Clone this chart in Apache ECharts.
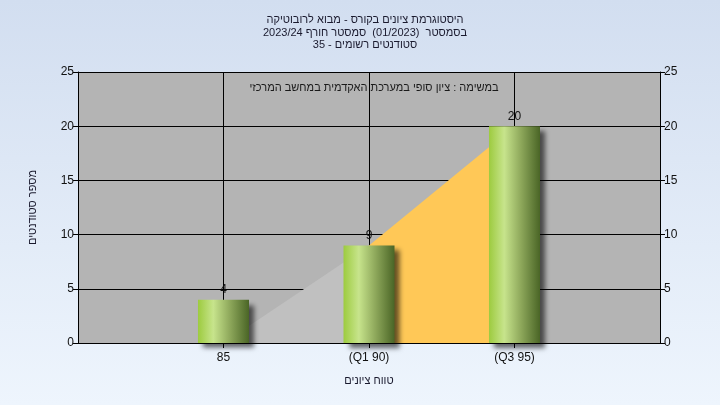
<!DOCTYPE html>
<html><head><meta charset="utf-8">
<script src="https://cdn.jsdelivr.net/npm/echarts@6/dist/echarts.min.js"></script>
<style>
html,body{margin:0;padding:0;}
#c{width:720px;height:405px;background:linear-gradient(to bottom,#d2def0 0%,#eef5fd 100%);}
</style></head>
<body><div id="c"></div>
<script>
var titleLines = ['היסטוגרמת ציונים בקורס - מבוא לרובוטיקה', 'בסמסטר  (01/2023)  סמסטר חורף 2023/24', 'סטודנטים רשומים - 35'];
var noteText = 'במשימה : ציון סופי במערכת האקדמית במחשב המרכזי';
var xAxisName = 'טווח ציונים';
var yAxisName = 'מספר סטודנטים';
var categories = ['', '85', '(Q1 90)', '(Q3 95)', ''];
var counts = [null, 4, 9, 20, null];
var lowerArea = [null, 0, 9, null, null];
var upperArea = [null, null, 9, 20, null];
var yMin = 0, yMax = 25, yStep = 5;

var font = 'Liberation Sans, Arial, sans-serif';
var chart = echarts.init(document.getElementById('c'));
var showCat = function (i) { return i > 0 && i < categories.length - 1; };
chart.setOption({
  backgroundColor: 'transparent',
  animation: false,
  textStyle: { fontFamily: font },
  title: [{
    text: titleLines.join('\n'),
    left: 360, textAlign: 'center', top: 9,
    textStyle: { fontSize: 11, fontWeight: 'normal', color: '#1a1a2e', lineHeight: 12.5, fontFamily: font }
  }, {
    text: noteText,
    left: 369, textAlign: 'center', top: 77,
    textStyle: { fontSize: 11, fontWeight: 'normal', color: '#1a1a1a', fontFamily: font }
  }],
  grid: { left: 78, right: 60, top: 72, bottom: 62, show: true, backgroundColor: '#b4b4b4', borderWidth: 0 },
  xAxis: {
    type: 'category', data: categories, boundaryGap: false,
    name: xAxisName, nameLocation: 'middle', nameGap: 32,
    nameTextStyle: { fontSize: 11, color: '#1a1a2e', fontFamily: font },
    axisLine: { lineStyle: { color: '#000', width: 1 } },
    axisTick: { show: true, length: 5, interval: function (i) { return showCat(i); }, lineStyle: { color: '#000' } },
    axisLabel: { interval: function (i) { return showCat(i); }, fontSize: 12, color: '#111', margin: 9, fontFamily: font },
    splitLine: { show: true, interval: function (i) { return showCat(i); }, lineStyle: { color: '#000', width: 1 } }
  },
  yAxis: [{
    type: 'value', min: yMin, max: yMax, interval: yStep, position: 'left',
    name: yAxisName, nameLocation: 'middle', nameGap: 40, nameRotate: 90,
    nameTextStyle: { fontSize: 11, color: '#1a1a2e', fontFamily: font },
    axisLine: { show: true, lineStyle: { color: '#000' } },
    axisTick: { show: true, length: 5, lineStyle: { color: '#000' } },
    axisLabel: { fontSize: 12, color: '#111', margin: 4, fontFamily: font },
    splitLine: { show: true, lineStyle: { color: '#000', width: 1 } }
  }, {
    type: 'value', min: yMin, max: yMax, interval: yStep, position: 'right',
    axisLine: { show: true, lineStyle: { color: '#000' } },
    axisTick: { show: true, length: 5, lineStyle: { color: '#000' } },
    axisLabel: { fontSize: 12, color: '#111', margin: 4, fontFamily: font },
    splitLine: { show: false }
  }],
  series: [{
    type: 'line', data: lowerArea, showSymbol: false, symbol: 'none',
    lineStyle: { width: 0 }, areaStyle: { color: '#c0c0c0', opacity: 1 }, z: 2
  }, {
    type: 'line', data: upperArea, showSymbol: false, symbol: 'none',
    lineStyle: { width: 0 }, areaStyle: { color: '#ffc857', opacity: 1 }, z: 2
  }, {
    type: 'bar', data: counts, barWidth: 51, z: 3,
    itemStyle: {
      color: new echarts.graphic.LinearGradient(0, 0, 1, 0, [
        { offset: 0, color: '#9dcb3f' },
        { offset: 0.3, color: '#c7e48c' },
        { offset: 0.62, color: '#8fa95c' },
        { offset: 1, color: '#4a6526' }
      ]),
      shadowColor: 'rgba(0,0,0,0.6)', shadowBlur: 5, shadowOffsetX: 5, shadowOffsetY: 5
    },
    label: { show: true, position: 'top', distance: 4, fontSize: 12, color: '#111', fontFamily: font }
  }]
});
</script></body></html>
